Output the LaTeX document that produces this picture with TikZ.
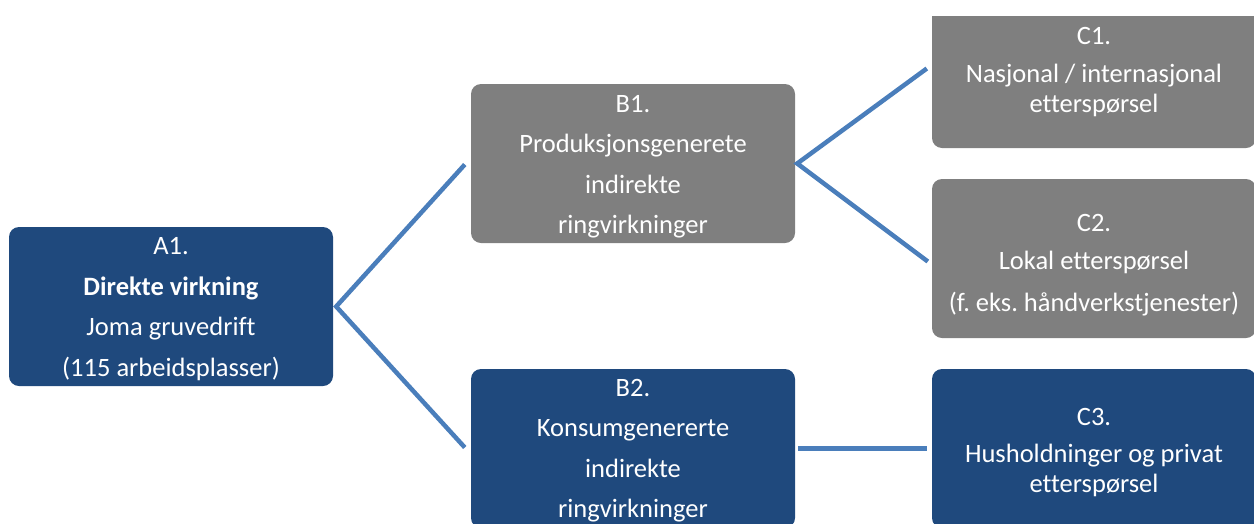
\documentclass[tikz,border=0pt]{standalone}
\usepackage{fontspec}
\setmainfont{Carlito}[Ligatures=NoCommon]
\frenchspacing
\definecolor{dblue}{HTML}{1F497D}
\definecolor{dgray}{HTML}{7F7F7F}
\definecolor{lblue}{HTML}{4A7EBB}
\newcommand{\padtop}[1]{\rule{0pt}{#1}}
\begin{document}
\begin{tikzpicture}[x=1pt,y=1pt,
  box/.style={rounded corners=10pt, minimum width=324pt, minimum height=159pt,
    text=white, align=center, inner sep=0pt, font=\fontsize{26.5}{30}\selectfont},
  bluebox/.style={box, fill=dblue},
  graybox/.style={box, fill=dgray},
  conn/.style={draw=lblue, line width=4.5pt}]
\useasboundingbox (0,0) rectangle (1254,-523);
\begin{scope}
\clip (0,-16) rectangle (1254,-523);
\node[bluebox] (A1) at (171,-306.5)
  {\padtop{22pt}A1.\\[10.5pt]\textbf{Direkte virkning}\\[10.5pt]Joma gruvedrift\\[10.5pt](115 arbeidsplasser)};
\node[graybox] (B1) at (633,-163.5)
  {\padtop{24pt}B1.\\[10.5pt]Produksjonsgenerete\\[10.5pt]indirekte\\[10.5pt]ringvirkninger};
\node[bluebox] (B2) at (633,-448.5)
  {\padtop{22pt}B2.\\[10.5pt]Konsumgenererte\\[10.5pt]indirekte\\[10.5pt]ringvirkninger};
\node[graybox] (C1) at (1094,-68.5)
  {\padtop{24pt}C1.\\[8pt]Nasjonal / internasjonal\\etterspørsel};
\node[graybox] (C2) at (1094,-258.5)
  {\padtop{30pt}C2.\\[8pt]Lokal etterspørsel\\[12pt](f. eks. håndverkstjenester)};
\node[bluebox] (C3) at (1094,-448.5)
  {\padtop{26pt}C3.\\[7pt]Husholdninger og privat\\etterspørsel};
\end{scope}
\draw[conn] ([xshift=-6pt,yshift=-1pt]B1.west) -- ([xshift=3pt]A1.east) -- ([xshift=-6pt,yshift=1pt]B2.west);
\draw[conn] ([xshift=-5pt]C1.west) -- ([xshift=2pt]B1.east) -- ([xshift=-4pt,yshift=-3pt]C2.west);
\draw[conn] ([xshift=3pt]B2.east) -- ([xshift=-5pt]C3.west);
\end{tikzpicture}
\end{document}
